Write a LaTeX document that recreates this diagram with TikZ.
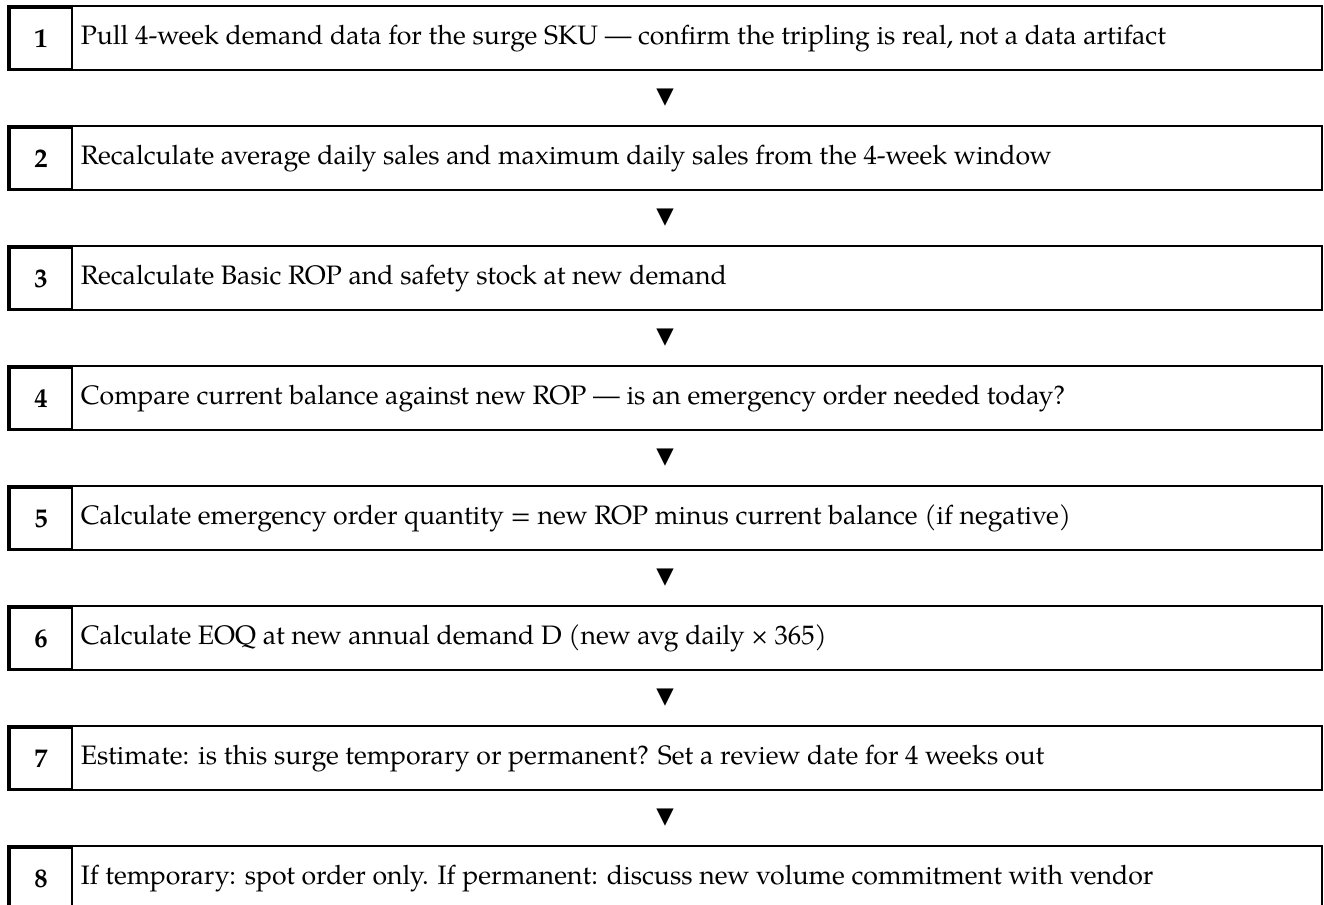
\documentclass[tikz,border=0pt]{standalone}
\usepackage{fontspec}
\setmainfont{texgyrepagella}[Extension=.otf, UprightFont=*-regular, BoldFont=*-bold]
\newfontfamily\symfont{DejaVu Sans}
\usetikzlibrary{calc}

\tikzset{
  stepbox/.style={draw, line width=1.1pt, minimum width=985.5pt, minimum height=48pt, inner sep=0pt},
  numbox/.style={draw, line width=0.8pt, minimum width=46.5pt, minimum height=45.75pt, inner sep=0pt, font=\fontsize{20}{24}\selectfont\bfseries},
  steptext/.style={anchor=west, inner xsep=6pt, inner ysep=0pt, font=\fontsize{20}{24}\selectfont},
  downmark/.style={inner sep=0pt, font=\symfont\fontsize{17}{17}\selectfont},
  leftedge/.style={line width=2.5pt},
}

\begin{document}
\begin{tikzpicture}[x=0.75pt, y=-0.75pt]
	\useasboundingbox (0,0) rectangle (1324,904);
	% step 1
	\node[stepbox] (s1) at (665,38) {};
	\node[numbox] (n1) at (41,38.5) {1};
	\node[steptext] (t1) at (n1.east) {Pull 4-week demand data for the surge SKU — confirm the tripling is real, not a data artifact};
	\draw[leftedge] (n1.north west) -- (n1.south west);
	% step 2
	\node[stepbox] (s2) at (665,158) {};
	\node[numbox] (n2) at (41,158.5) {2};
	\node[steptext] (t2) at (n2.east) {Recalculate average daily sales and maximum daily sales from the 4-week window};
	\draw[leftedge] (n2.north west) -- (n2.south west);
	% step 3
	\node[stepbox] (s3) at (665,278) {};
	\node[numbox] (n3) at (41,278.5) {3};
	\node[steptext] (t3) at (n3.east) {Recalculate Basic ROP and safety stock at new demand};
	\draw[leftedge] (n3.north west) -- (n3.south west);
	% step 4
	\node[stepbox] (s4) at (665,398) {};
	\node[numbox] (n4) at (41,398.5) {4};
	\node[steptext] (t4) at (n4.east) {Compare current balance against new ROP — is an emergency order needed today?};
	\draw[leftedge] (n4.north west) -- (n4.south west);
	% step 5
	\node[stepbox] (s5) at (665,518) {};
	\node[numbox] (n5) at (41,518.5) {5};
	\node[steptext] (t5) at (n5.east) {Calculate emergency order quantity = new ROP minus current balance (if negative)};
	\draw[leftedge] (n5.north west) -- (n5.south west);
	% step 6
	\node[stepbox] (s6) at (665,638) {};
	\node[numbox] (n6) at (41,638.5) {6};
	\node[steptext] (t6) at (n6.east) {Calculate EOQ at new annual demand D (new avg daily × 365)};
	\draw[leftedge] (n6.north west) -- (n6.south west);
	% step 7
	\node[stepbox] (s7) at (665,758) {};
	\node[numbox] (n7) at (41,758.5) {7};
	\node[steptext] (t7) at (n7.east) {Estimate: is this surge temporary or permanent? Set a review date for 4 weeks out};
	\draw[leftedge] (n7.north west) -- (n7.south west);
	% step 8
	\node[stepbox] (s8) at (665,878) {};
	\node[numbox] (n8) at (41,878.5) {8};
	\node[steptext] (t8) at (n8.east) {If temporary: spot order only. If permanent: discuss new volume commitment with vendor};
	\draw[leftedge] (n8.north west) -- (n8.south west);
	% markers between steps
	\node[downmark] (m1) at ($(s1.south)!0.5!(s2.north)$) {▼};
	\node[downmark] (m2) at ($(s2.south)!0.5!(s3.north)$) {▼};
	\node[downmark] (m3) at ($(s3.south)!0.5!(s4.north)$) {▼};
	\node[downmark] (m4) at ($(s4.south)!0.5!(s5.north)$) {▼};
	\node[downmark] (m5) at ($(s5.south)!0.5!(s6.north)$) {▼};
	\node[downmark] (m6) at ($(s6.south)!0.5!(s7.north)$) {▼};
	\node[downmark] (m7) at ($(s7.south)!0.5!(s8.north)$) {▼};
\end{tikzpicture}
\end{document}
